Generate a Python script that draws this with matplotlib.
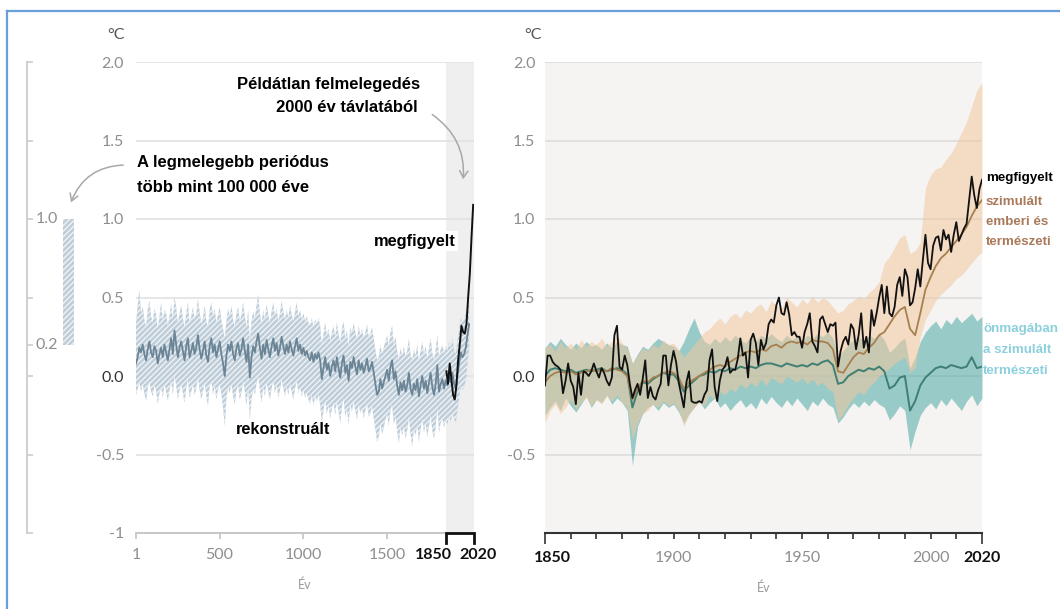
import numpy as np
import matplotlib
matplotlib.use("Agg")
import matplotlib.pyplot as plt
from matplotlib.patches import FancyArrowPatch
from matplotlib.lines import Line2D
from matplotlib.transforms import ScaledTranslation, blended_transform_factory

# ---------------------------------------------------------------- data
# (a) reconstructed decadal global temperature, years 1..1991 step 10
recon_mean = [
    0.08, 0.12, 0.18, 0.15, 0.20, 0.14, 0.10, 0.17, 0.22, 0.15,
    0.12, 0.19, 0.16, 0.08, 0.14, 0.18, 0.12, 0.20, 0.15, 0.10,
    0.17, 0.24, 0.14, 0.29, 0.20, 0.12, 0.18, 0.22, 0.16, 0.10,
    0.19, 0.24, 0.12, 0.16, 0.21, 0.14, 0.18, 0.26, 0.17, 0.11,
    0.16, 0.22, 0.13, 0.09, 0.19, 0.24, 0.15, 0.20, 0.12, 0.17,
    0.22, 0.14, 0.08, 0.00, 0.13, 0.20, 0.16, 0.22, 0.14, 0.10,
    0.18, 0.21, 0.13, 0.17, 0.24, 0.16, 0.09, 0.20, -0.01, 0.12,
    0.19, 0.15, 0.22, 0.27, 0.18, 0.11, 0.20, 0.14, 0.23, 0.17,
    0.12, 0.19, 0.24, 0.16, 0.21, 0.13, 0.18, 0.25, 0.19, 0.14,
    0.20, 0.15, 0.22, 0.17, 0.13, 0.19, 0.24, 0.16, 0.20, 0.14,
    0.18, 0.13, 0.16, 0.12, 0.10, 0.15, 0.09, 0.14, 0.11, 0.15,
    0.10, -0.02, 0.05, 0.12, 0.04, 0.08, 0.00, 0.06, 0.10, 0.03,
    0.12, 0.05, -0.01, 0.08, 0.13, 0.02, 0.07, -0.03, 0.09, 0.05,
    0.12, 0.06, 0.01, 0.10, 0.04, 0.08, 0.02, 0.06, 0.11, 0.03,
    0.05, 0.09, 0.02, -0.05, -0.12, -0.10, -0.02, -0.08, -0.04, 0.00,
    0.04, -0.03, 0.06, 0.10, -0.02, 0.03, -0.06, -0.12, -0.04, -0.09,
    -0.03, -0.10, -0.06, 0.02, -0.08, -0.12, -0.05, -0.09, -0.02, -0.13,
    -0.06, 0.00, -0.08, -0.03, -0.11, -0.04, 0.02, -0.07, -0.12, -0.05,
    0.07, -0.10, -0.05, -0.02, -0.08, -0.03, -0.06, 0.00, -0.04, 0.02,
    -0.05, -0.08, 0.00, 0.08, 0.15, 0.12, 0.14, 0.18, 0.26, 0.33,
]
recon_hi = [
    0.33, 0.45, 0.55, 0.40, 0.44, 0.36, 0.31, 0.42, 0.48, 0.38,
    0.34, 0.43, 0.39, 0.30, 0.38, 0.47, 0.35, 0.42, 0.40, 0.32,
    0.38, 0.46, 0.36, 0.50, 0.44, 0.33, 0.40, 0.45, 0.37, 0.31,
    0.40, 0.47, 0.33, 0.38, 0.44, 0.36, 0.40, 0.49, 0.41, 0.33,
    0.37, 0.45, 0.35, 0.31, 0.42, 0.47, 0.38, 0.43, 0.34, 0.39,
    0.44, 0.36, 0.30, 0.24, 0.35, 0.43, 0.38, 0.45, 0.36, 0.32,
    0.40, 0.44, 0.35, 0.39, 0.47, 0.38, 0.31, 0.42, 0.22, 0.35,
    0.41, 0.37, 0.45, 0.52, 0.40, 0.33, 0.42, 0.36, 0.46, 0.39,
    0.34, 0.41, 0.47, 0.38, 0.43, 0.35, 0.40, 0.48, 0.41, 0.36,
    0.42, 0.37, 0.45, 0.39, 0.35, 0.41, 0.47, 0.38, 0.42, 0.36,
    0.40, 0.35, 0.38, 0.34, 0.32, 0.37, 0.31, 0.36, 0.33, 0.37,
    0.32, 0.20, 0.27, 0.34, 0.26, 0.30, 0.22, 0.28, 0.32, 0.25,
    0.34, 0.27, 0.21, 0.30, 0.35, 0.24, 0.29, 0.19, 0.31, 0.27,
    0.34, 0.28, 0.23, 0.32, 0.26, 0.30, 0.24, 0.28, 0.33, 0.25,
    0.27, 0.31, 0.24, 0.17, 0.10, 0.12, 0.20, 0.14, 0.18, 0.22,
    0.26, 0.19, 0.28, 0.32, 0.20, 0.25, 0.16, 0.10, 0.18, 0.13,
    0.19, 0.12, 0.16, 0.24, 0.14, 0.10, 0.17, 0.13, 0.20, 0.09,
    0.16, 0.22, 0.14, 0.19, 0.11, 0.18, 0.24, 0.15, 0.10, 0.17,
    0.26, 0.12, 0.17, 0.20, 0.14, 0.19, 0.16, 0.22, 0.18, 0.24,
    0.17, 0.14, 0.22, 0.30, 0.37, 0.34, 0.36, 0.40, 0.44, 0.47,
]
recon_lo = [
    -0.12, -0.08, -0.04, -0.10, -0.05, -0.11, -0.16, -0.08, -0.03, -0.10,
    -0.13, -0.06, -0.09, -0.18, -0.11, -0.07, -0.14, -0.05, -0.10, -0.16,
    -0.09, -0.03, -0.12, 0.00, -0.06, -0.15, -0.09, -0.05, -0.11, -0.17,
    -0.08, -0.02, -0.14, -0.10, -0.05, -0.12, -0.08, -0.01, -0.09, -0.15,
    -0.10, -0.04, -0.13, -0.19, -0.07, -0.03, -0.12, -0.06, -0.15, -0.09,
    -0.05, -0.12, -0.20, -0.32, -0.15, -0.07, -0.11, -0.05, -0.13, -0.18,
    -0.09, -0.06, -0.15, -0.11, -0.03, -0.10, -0.19, -0.07, -0.28, -0.15,
    -0.08, -0.12, -0.05, 0.00, -0.09, -0.17, -0.07, -0.13, -0.04, -0.10,
    -0.15, -0.08, -0.03, -0.11, -0.06, -0.14, -0.09, -0.02, -0.08, -0.13,
    -0.07, -0.12, -0.05, -0.10, -0.15, -0.08, -0.03, -0.11, -0.07, -0.13,
    -0.09, -0.14, -0.11, -0.15, -0.18, -0.12, -0.19, -0.13, -0.16, -0.12,
    -0.18, -0.30, -0.22, -0.15, -0.24, -0.19, -0.27, -0.21, -0.17, -0.25,
    -0.16, -0.23, -0.30, -0.20, -0.14, -0.26, -0.21, -0.31, -0.18, -0.23,
    -0.16, -0.22, -0.28, -0.18, -0.24, -0.20, -0.27, -0.22, -0.17, -0.26,
    -0.24, -0.19, -0.27, -0.34, -0.42, -0.39, -0.30, -0.37, -0.33, -0.28,
    -0.24, -0.32, -0.22, -0.18, -0.31, -0.26, -0.35, -0.43, -0.33, -0.38,
    -0.32, -0.40, -0.35, -0.26, -0.37, -0.45, -0.34, -0.38, -0.31, -0.42,
    -0.34, -0.27, -0.36, -0.30, -0.39, -0.32, -0.25, -0.35, -0.40, -0.33,
    -0.20, -0.36, -0.30, -0.27, -0.33, -0.28, -0.31, -0.25, -0.29, -0.23,
    -0.27, -0.30, -0.22, -0.14, -0.06, -0.09, -0.07, -0.03, 0.08, 0.18,
]
recon_years = np.arange(1, 2000, 10)

# (a) observed decadal averages, 1850s .. 2010s
obs_dec_years = [1855, 1865, 1875, 1885, 1895, 1905, 1915, 1925, 1935,
                 1945, 1955, 1965, 1975, 1985, 1995, 2005, 2015]
obs_dec = [0.03, -0.05, 0.08, -0.02, -0.12, -0.15, -0.06, 0.10, 0.20,
           0.32, 0.28, 0.27, 0.33, 0.50, 0.65, 0.88, 1.09]

# warmest multi-century period more than 100 000 years ago
warm_low, warm_high = 0.2, 1.0

# (b) observed annual global temperature, 1850..2020
obs_years = np.arange(1850, 2021)
obs_annual = [
    -0.06, 0.13, 0.13, 0.09, 0.07, 0.06, 0.04, -0.11, -0.03, 0.08,
    -0.03, -0.07, -0.18, 0.02, -0.12, 0.03, 0.02, 0.00, 0.03, 0.08,
    0.03, -0.01, 0.05, 0.02, -0.03, -0.06, -0.01, 0.26, 0.32, 0.06,
    0.04, 0.13, 0.07, -0.05, -0.14, -0.09, -0.05, -0.12, -0.02, 0.10,
    -0.14, -0.07, -0.13, -0.15, -0.09, -0.05, 0.13, 0.13, -0.06, 0.07,
    0.16, 0.09, -0.04, -0.12, -0.20, -0.04, 0.03, -0.16, -0.17, -0.17,
    -0.16, -0.17, -0.12, -0.09, 0.10, 0.17, -0.07, -0.16, -0.03, 0.04,
    0.06, 0.12, 0.02, 0.04, 0.04, 0.11, 0.24, 0.13, 0.15, -0.01,
    0.23, 0.27, 0.21, 0.07, 0.23, 0.17, 0.21, 0.33, 0.36, 0.34,
    0.45, 0.50, 0.40, 0.39, 0.47, 0.39, 0.26, 0.28, 0.25, 0.25,
    0.18, 0.28, 0.33, 0.40, 0.22, 0.19, 0.15, 0.36, 0.38, 0.33,
    0.28, 0.33, 0.32, 0.34, 0.06, 0.16, 0.22, 0.25, 0.20, 0.33,
    0.30, 0.17, 0.26, 0.40, 0.18, 0.25, 0.15, 0.42, 0.32, 0.40,
    0.50, 0.58, 0.40, 0.57, 0.40, 0.38, 0.44, 0.58, 0.63, 0.51,
    0.68, 0.63, 0.45, 0.47, 0.56, 0.68, 0.57, 0.74, 0.90, 0.72,
    0.68, 0.83, 0.88, 0.89, 0.80, 0.93, 0.87, 0.90, 0.79, 0.90,
    0.98, 0.86, 0.90, 0.94, 0.97, 1.12, 1.27, 1.15, 1.07, 1.19, 1.25,
]

# (b) simulations, every second year 1850..2020
sim_years = np.arange(1850, 2021, 2)
hn_mean = [
    -0.04, 0.00, 0.02, 0.03, 0.02, 0.03, 0.01, 0.02, 0.03, 0.04,
    0.03, 0.04, 0.03, 0.05, 0.04, 0.03, 0.00, -0.15, -0.08, -0.03,
    -0.04, -0.01, 0.00, 0.02, 0.03, 0.02, -0.01, -0.08, -0.04, -0.02,
    0.00, 0.02, 0.04, 0.06, 0.07, 0.06, 0.09, 0.11, 0.13, 0.15,
    0.16, 0.15, 0.17, 0.16, 0.19, 0.20, 0.18, 0.21, 0.22, 0.21,
    0.22, 0.20, 0.23, 0.22, 0.22, 0.21, 0.17, 0.03, 0.02, 0.07,
    0.12, 0.15, 0.14, 0.18, 0.21, 0.26, 0.28, 0.33, 0.38, 0.42,
    0.44, 0.30, 0.26, 0.40, 0.55, 0.63, 0.70, 0.75, 0.78, 0.82,
    0.86, 0.90, 0.95, 1.02, 1.08, 1.12,
]
hn_lo = [
    -0.30, -0.22, -0.18, -0.24, -0.20, -0.15, -0.21, -0.17, -0.14, -0.19,
    -0.15, -0.18, -0.13, -0.16, -0.12, -0.17, -0.20, -0.40, -0.30, -0.24,
    -0.22, -0.18, -0.20, -0.16, -0.19, -0.17, -0.22, -0.32, -0.25, -0.20,
    -0.17, -0.19, -0.12, -0.15, -0.10, -0.12, -0.08, -0.10, -0.05, -0.08,
    -0.04, -0.07, -0.02, -0.06, -0.01, -0.03, -0.05, 0.00, -0.02, -0.04,
    -0.01, -0.05, -0.02, -0.06, -0.04, -0.08, -0.10, -0.28, -0.24, -0.18,
    -0.14, -0.10, -0.12, -0.07, -0.04, 0.00, 0.02, 0.05, 0.08, 0.10,
    0.12, 0.02, 0.05, 0.25, 0.36, 0.42, 0.48, 0.52, 0.55, 0.58,
    0.62, 0.64, 0.68, 0.72, 0.76, 0.79,
]
hn_hi = [
    0.18, 0.20, 0.16, 0.22, 0.18, 0.21, 0.17, 0.23, 0.19, 0.22,
    0.20, 0.24, 0.19, 0.22, 0.26, 0.21, 0.18, 0.08, 0.13, 0.18,
    0.16, 0.20, 0.18, 0.23, 0.20, 0.21, 0.17, 0.12, 0.16, 0.20,
    0.24, 0.28, 0.30, 0.34, 0.37, 0.33, 0.38, 0.40, 0.37, 0.42,
    0.40, 0.44, 0.46, 0.41, 0.48, 0.45, 0.43, 0.50, 0.47, 0.44,
    0.49, 0.46, 0.51, 0.47, 0.50, 0.48, 0.44, 0.40, 0.42, 0.46,
    0.48, 0.51, 0.49, 0.53, 0.56, 0.60, 0.72, 0.76, 0.82, 0.88,
    0.90, 0.78, 0.80, 0.85, 1.20, 1.28, 1.32, 1.33, 1.38, 1.42,
    1.48, 1.55, 1.62, 1.72, 1.82, 1.87,
]
nat_mean = [
    0.00, 0.04, 0.05, 0.04, 0.03, 0.04, 0.02, 0.03, 0.04, 0.03,
    0.04, 0.05, 0.03, 0.04, 0.05, 0.04, 0.01, -0.20, -0.10, -0.04,
    -0.05, -0.02, 0.00, 0.02, 0.01, 0.01, -0.03, -0.10, -0.06, -0.03,
    0.00, 0.01, 0.03, 0.02, 0.04, 0.03, 0.05, 0.04, 0.06, 0.05,
    0.06, 0.05, 0.07, 0.08, 0.08, 0.07, 0.06, 0.08, 0.07, 0.06,
    0.07, 0.06, 0.08, 0.07, 0.09, 0.10, 0.07, -0.05, -0.04, 0.00,
    0.02, 0.04, 0.03, 0.05, 0.04, 0.06, 0.03, -0.08, -0.06, -0.01,
    0.00, -0.22, -0.16, -0.06, -0.01, 0.02, 0.05, 0.06, 0.05, 0.07,
    0.06, 0.05, 0.06, 0.12, 0.05, 0.06,
]
nat_lo = [
    -0.25, -0.20, -0.16, -0.22, -0.14, -0.19, -0.23, -0.18, -0.13, -0.20,
    -0.15, -0.17, -0.12, -0.18, -0.14, -0.17, -0.22, -0.57, -0.32, -0.24,
    -0.20, -0.18, -0.22, -0.17, -0.20, -0.18, -0.23, -0.30, -0.24, -0.20,
    -0.16, -0.21, -0.17, -0.14, -0.20, -0.17, -0.22, -0.18, -0.15, -0.20,
    -0.17, -0.21, -0.14, -0.18, -0.13, -0.17, -0.20, -0.15, -0.19, -0.14,
    -0.18, -0.22, -0.16, -0.19, -0.14, -0.18, -0.20, -0.30, -0.26, -0.21,
    -0.17, -0.20, -0.16, -0.19, -0.15, -0.18, -0.20, -0.28, -0.24, -0.19,
    -0.22, -0.47, -0.35, -0.25, -0.20, -0.17, -0.21, -0.15, -0.19, -0.14,
    -0.18, -0.22, -0.16, -0.12, -0.19, -0.14,
]
nat_hi = [
    0.18, 0.22, 0.19, 0.24, 0.20, 0.17, 0.21, 0.18, 0.22, 0.19,
    0.20, 0.17, 0.21, 0.18, 0.22, 0.20, 0.19, 0.08, 0.14, 0.19,
    0.17, 0.21, 0.24, 0.22, 0.20, 0.19, 0.16, 0.22, 0.30, 0.37,
    0.28, 0.22, 0.20, 0.24, 0.21, 0.25, 0.22, 0.26, 0.23, 0.21,
    0.25, 0.22, 0.26, 0.24, 0.27, 0.24, 0.22, 0.26, 0.23, 0.25,
    0.22, 0.26, 0.24, 0.27, 0.25, 0.28, 0.24, 0.12, 0.16, 0.20,
    0.23, 0.25, 0.22, 0.26, 0.24, 0.27, 0.23, 0.15, 0.18, 0.22,
    0.24, 0.05, 0.12, 0.22, 0.28, 0.32, 0.35, 0.30, 0.36, 0.33,
    0.38, 0.34, 0.37, 0.40, 0.35, 0.38,
]

y_ticks = [2.0, 1.5, 1.0, 0.5, 0.0, -0.5, -1.0]
y_labels_a = ["2.0", "1.5", "1.0", "0.5", "0.0", "-0.5", "-1"]
y_labels_b = ["2.0", "1.5", "1.0", "0.5", "0.0", "-0.5", ""]
x_ticks_a = [1, 500, 1000, 1500, 1850, 2020]
x_ticks_b = [1850, 1900, 1950, 2000, 2020]

# ---------------------------------------------------------------- style
W, H = 1060, 609
plt.rcParams["font.family"] = ["Lato", "DejaVu Sans"]
plt.rcParams["hatch.linewidth"] = 0.9

GRID = "#e2e2e2"
TICK_GREY = "#8e8e8e"
BAND_FILL = "#bfcdd9"
RECON_LINE = "#6b8597"
PEACH = (0.95, 0.78, 0.62, 0.55)
TEAL = (0.30, 0.66, 0.64, 0.55)
BROWN = "#a6804f"
DKTEAL = "#3f7f73"
BOLD = "Liberation Sans"


def fx(x):
    return x / W


def fy(y):
    return 1 - y / H


def axes_px(x0, x1, y0, y1):
    return [fx(x0), fy(y1), (x1 - x0) / W, (y1 - y0) / H]


fig = plt.figure(figsize=(W / 100, H / 100), dpi=100)
fig.patch.set_facecolor("white")

# ---------------------------------------------------------------- panel (a)
ax = fig.add_axes(axes_px(136, 474, 62, 533))
ax.set_xlim(1, 2020)
ax.set_ylim(-1, 2)
ax.set_facecolor("none")
ax.axvspan(1850, 2020, color="#efefef", lw=0, zorder=0)
for s in ["top", "right", "left"]:
    ax.spines[s].set_visible(False)
ax.spines["bottom"].set_color("#c4c4c4")
ax.spines["bottom"].set_linewidth(1.3)
ax.set_yticks(y_ticks)
ax.set_yticklabels(y_labels_a)
ax.tick_params(axis="y", length=0, pad=8.5, labelsize=11.5, labelcolor=TICK_GREY)
ax.get_yticklabels()[4].set_color("#333333")
ax.grid(axis="y", color=GRID, lw=1.2, zorder=0.5)
ax.set_axisbelow(True)
ax.set_xticks(x_ticks_a)
ax.set_xticklabels([str(v) for v in x_ticks_a])
ax.tick_params(axis="x", length=4, width=1.2, color="#c4c4c4", pad=7,
               labelsize=11.5, labelcolor=TICK_GREY)
xt = ax.get_xticklabels()
for lab, shift in ((xt[4], -12), (xt[5], 4)):
    lab.set_color("#111111")
    lab.set_fontweight("bold")
    lab.set_transform(lab.get_transform() + ScaledTranslation(shift / 100, 0, fig.dpi_scale_trans))
for t in ax.xaxis.get_major_ticks()[4:]:
    t.tick1line.set_visible(False)

# bracket marking the instrumental period
trb = blended_transform_factory(ax.transData, ax.transAxes)
ax.plot([1850, 1850, 2020, 2020], [-0.022, 0, 0, -0.022], color="#111111",
        lw=2, transform=trb, clip_on=False, solid_joinstyle="miter", zorder=5)

ax.fill_between(recon_years, recon_lo, recon_hi, facecolor=BAND_FILL,
                edgecolor="#f4f7f9", hatch="//////", lw=0, zorder=2)
ax.plot(recon_years, recon_mean, color=RECON_LINE, lw=1.3, zorder=3)
ax.plot(obs_dec_years, obs_dec, color="#111111", lw=1.4, zorder=4)

ax.set_xlabel("Év", color="#9a9a9a", fontsize=9, labelpad=12)

# ---------------------------------------------------------------- warm-period bar
ax0 = fig.add_axes(axes_px(20, 80, 62, 533))
ax0.set_xlim(0, 60)
ax0.set_ylim(-1, 2)
ax0.set_facecolor("none")
for s in ["top", "right", "bottom"]:
    ax0.spines[s].set_visible(False)
ax0.spines["left"].set_position(("data", 7))
ax0.spines["left"].set_color("#cccccc")
ax0.spines["left"].set_linewidth(1.3)
ax0.set_xticks([])
ax0.set_yticks(y_ticks + [warm_low])
ax0.set_yticklabels([])
ax0.tick_params(axis="y", direction="in", length=4, width=1.2, color="#cccccc")
ax0.bar(48.5, warm_high - warm_low, bottom=warm_low, width=11,
        facecolor=BAND_FILL, edgecolor="#f4f7f9", hatch="//////", lw=0)
for v in (warm_high, warm_low):
    ax0.text(38.5, v, f"{v:.1f}", ha="right", va="center", fontsize=11.5,
             color=TICK_GREY)

# ---------------------------------------------------------------- panel (b)
bx = fig.add_axes(axes_px(545, 982, 62, 533))
bx.set_xlim(1850, 2020)
bx.set_ylim(-1, 2)
bx.set_facecolor("#f5f4f3")
for s in ["top", "right", "left"]:
    bx.spines[s].set_visible(False)
bx.spines["bottom"].set_color("#333333")
bx.spines["bottom"].set_linewidth(1.5)
bx.set_yticks(y_ticks)
bx.set_yticklabels(y_labels_b)
bx.tick_params(axis="y", length=0, pad=7, labelsize=11.5, labelcolor=TICK_GREY)
bx.get_yticklabels()[4].set_color("#333333")
bx.grid(axis="y", color="#dcdcdc", lw=1.2)
bx.set_axisbelow(True)
bx.set_xticks(x_ticks_b)
bx.set_xticklabels([str(v) for v in x_ticks_b])
bx.set_xticks(np.arange(1860, 2020, 10), minor=True)
bx.tick_params(axis="x", which="both", length=4, width=1.2, color="#333333",
               pad=9, labelsize=11.5, labelcolor=TICK_GREY)
bt = bx.xaxis.get_major_ticks()
for t in (bt[0], bt[-1]):
    t.tick1line.set_markersize(8)
xl = bx.get_xticklabels()
for lab, shift in ((xl[0], 7), (xl[-1], 0)):
    lab.set_color("#111111")
    lab.set_fontweight("bold")
    lab.set_transform(lab.get_transform() + ScaledTranslation(shift / 100, 0, fig.dpi_scale_trans))

bx.fill_between(sim_years, nat_lo, nat_hi, color=TEAL, lw=0, zorder=2)
bx.fill_between(sim_years, hn_lo, hn_hi, color=PEACH, lw=0, zorder=2.1)
bx.plot(sim_years, nat_mean, color=DKTEAL, lw=1.4, zorder=3)
bx.plot(sim_years, hn_mean, color=BROWN, lw=1.3, zorder=3.1)
bx.plot(obs_years, obs_annual, color="#111111", lw=1.3, zorder=4)
bx.set_xlabel("Év", color="#9a9a9a", fontsize=9, labelpad=12)

# ---------------------------------------------------------------- text
fig.text(fx(116), fy(35), "°C", ha="center", va="center", fontsize=11.5, color="#555555")
fig.text(fx(533), fy(35), "°C", ha="center", va="center", fontsize=11.5, color="#555555")

fig.text(fx(420), fy(84), "Példátlan felmelegedés", ha="right", va="center",
         family=BOLD, weight="bold", fontsize=12, color="black")
fig.text(fx(418), fy(108), "2000 év távlatából", ha="right", va="center",
         family=BOLD, weight="bold", fontsize=12, color="black")
fig.text(fx(137), fy(162), "A legmelegebb periódus", ha="left", va="center",
         family=BOLD, weight="bold", fontsize=12, color="black")
fig.text(fx(137), fy(187), "több mint 100 000 éve", ha="left", va="center",
         family=BOLD, weight="bold", fontsize=12, color="black")
fig.text(fx(456), fy(241), "megfigyelt", ha="right", va="center",
         family=BOLD, weight="bold", fontsize=11.8, color="black",
         bbox=dict(facecolor="white", edgecolor="none", pad=1.5))
fig.text(fx(236), fy(430), "rekonstruált", ha="left", va="center",
         family=BOLD, weight="bold", fontsize=11.8, color="black")

fig.text(fx(986), fy(178), "megfigyelt", ha="left", va="center",
         family=BOLD, weight="bold", fontsize=9.6, color="black")
for txt, yy in (("szimulált", 202), ("emberi és", 222), ("természeti", 242)):
    fig.text(fx(986), fy(yy), txt, ha="left", va="center", family=BOLD,
             weight="bold", fontsize=9.6, color="#a9795a")
for txt, yy in (("önmagában", 329), ("a szimulált", 350), ("természeti", 371)):
    fig.text(fx(983), fy(yy), txt, ha="left", va="center", family=BOLD,
             weight="bold", fontsize=9.6, color="#8dd0dd")

# ---------------------------------------------------------------- arrows
arrow_kw = dict(transform=fig.transFigure, arrowstyle="->,head_length=5,head_width=3",
                color="#a8a8a8", lw=1.1, mutation_scale=1)
fig.add_artist(FancyArrowPatch((fx(126), fy(165)), (fx(70), fy(205)),
                               connectionstyle="arc3,rad=0.35", **arrow_kw))
fig.add_artist(FancyArrowPatch((fx(430), fy(113)), (fx(463), fy(182)),
                               connectionstyle="arc3,rad=-0.3", **arrow_kw))

# ---------------------------------------------------------------- frame
fig.add_artist(Line2D([fx(7), fx(7)], [fy(11), fy(612)], transform=fig.transFigure,
                      color="#6a9fdc", lw=1.6))
fig.add_artist(Line2D([fx(7), fx(1063)], [fy(11), fy(11)], transform=fig.transFigure,
                      color="#6a9fdc", lw=1.6))

fig.savefig("out.png", dpi=100, facecolor="white")
